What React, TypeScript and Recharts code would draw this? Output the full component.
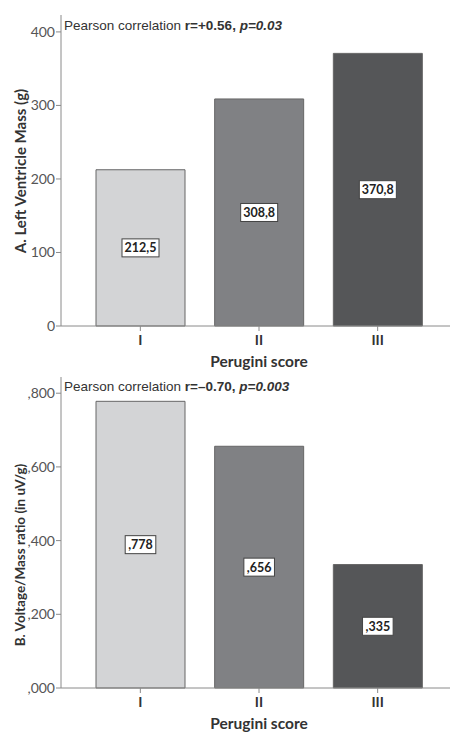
import React from 'react'
import { BarChart, Bar, XAxis, YAxis, Cell, LabelList } from 'recharts'

const categories = ['I', 'II', 'III']
const massValues = [212.5, 308.8, 370.8]
const ratioValues = [0.778, 0.656, 0.335]
const barColors = ['#d3d4d6', '#808184', '#555658']
const massTicks = [0, 100, 200, 300, 400]
const ratioTicks = [0, 0.2, 0.4, 0.6, 0.8]

const massData = categories.map((cat, i) => ({ cat, value: massValues[i] }))
const ratioData = categories.map((cat, i) => ({ cat, value: ratioValues[i] }))

const FONT = 'Lato, "Open Sans", sans-serif'
const AXIS = '#8a8a8a'

// comma decimals like the SPSS output
const fmtMass = (v: number) => v.toFixed(1).replace('.', ',')
const fmtRatio = (v: number) => v.toFixed(3).replace(/^0\./, ',')

function BoxLabel(props: any) {
  const { x, y, width, height, value, fmt } = props
  const text = fmt(value)
  const w = text.length * 6.4 + 5
  const h = 18
  const cx = x + width / 2
  const cy = y + height / 2
  return (
    <g>
      <rect x={cx - w / 2} y={cy - h / 2} width={w} height={h} fill="#fff" stroke="#444" strokeWidth={1} />
      <text x={cx} y={cy + 4.5} textAnchor="middle" fontFamily={FONT} fontWeight={700} fontSize={12.5} fill="#222">
        {text}
      </text>
    </g>
  )
}

function Note({ top, r, p }: { top: number; r: string; p: string }) {
  return (
    <div
      style={{
        position: 'absolute',
        left: 64,
        top,
        fontFamily: '"Liberation Sans", Arial, sans-serif',
        fontSize: 13.5,
        color: '#333',
        whiteSpace: 'nowrap',
      }}
    >
      Pearson correlation <b>{r},</b> <b><i>{p}</i></b>
    </div>
  )
}

interface PanelProps {
  data: Array<{ cat: string; value: number }>
  ticks: number[]
  domainMax: number
  tickFmt: (v: number) => string
  labelFmt: (v: number) => string
  yLabel: string
  yLabelSize: number
  yLabelCenter: number
  top: number
  marginTop: number
}

function Panel({ data, ticks, domainMax, tickFmt, labelFmt, yLabel, yLabelSize, yLabelCenter, top, marginTop }: PanelProps) {
  const yLabelContent = () => (
    <text
      x={20}
      y={yLabelCenter}
      transform={`rotate(-90, 20, ${yLabelCenter})`}
      textAnchor="middle"
      dominantBaseline="central"
      fontFamily={FONT}
      fontWeight={700}
      fontSize={yLabelSize}
      fill="#333"
    >
      {yLabel}
    </text>
  )
  return (
    <div style={{ position: 'absolute', left: 0, top }}>
      <BarChart
        width={457}
        height={marginTop + 311 + 44}
        data={data}
        margin={{ top: marginTop, right: 0, bottom: 0, left: 0 }}
        barSize={89}
      >
        <XAxis
          dataKey="cat"
          padding={{ left: 20, right: 20 }}
          height={44}
          tickSize={5}
          tickMargin={4}
          stroke={AXIS}
          tick={{ fontFamily: FONT, fontWeight: 700, fontSize: 14, fill: '#333' }}
          label={{
            value: 'Perugini score',
            position: 'insideBottom',
            offset: 3,
            style: { fontFamily: FONT, fontWeight: 700, fontSize: 15.5, fill: '#333' },
          }}
        />
        <XAxis xAxisId="top" dataKey="cat" orientation="top" height={0} tick={false} tickLine={false} stroke={AXIS} />
        <YAxis
          domain={[0, domainMax]}
          ticks={ticks}
          tickFormatter={tickFmt}
          width={61}
          tickSize={5}
          tickMargin={1}
          stroke={AXIS}
          tick={{ fontFamily: FONT, fontSize: 14, fill: '#555' }}
          label={yLabelContent}
        />
        <Bar dataKey="value" stroke="#666" strokeWidth={1} isAnimationActive={false}>
          {data.map((_, i) => (
            <Cell key={i} fill={barColors[i]} />
          ))}
          <LabelList dataKey="value" content={(p: any) => <BoxLabel {...p} fmt={labelFmt} />} />
        </Bar>
      </BarChart>
    </div>
  )
}

export default function App() {
  return (
    <div style={{ position: 'absolute', left: 0, top: 0, width: 450, height: 733, overflow: 'hidden', background: '#fff' }}>
      <Panel
        data={massData}
        ticks={massTicks}
        domainMax={423}
        tickFmt={(v) => String(v)}
        labelFmt={fmtMass}
        yLabel="A. Left Ventricle Mass (g)"
        yLabelSize={15}
        yLabelCenter={171}
        top={0}
        marginTop={15}
      />
      <Note top={18} r="r=+0.56" p="p=0.03" />
      <Panel
        data={ratioData}
        ticks={ratioTicks}
        domainMax={0.844}
        tickFmt={fmtRatio}
        labelFmt={fmtRatio}
        yLabel="B. Voltage/Mass ratio (in uV/g)"
        yLabelSize={13.5}
        yLabelCenter={555 - 370}
        top={370}
        marginTop={7}
      />
      <Note top={379} r="r=–0.70" p="p=0.003" />
    </div>
  )
}
